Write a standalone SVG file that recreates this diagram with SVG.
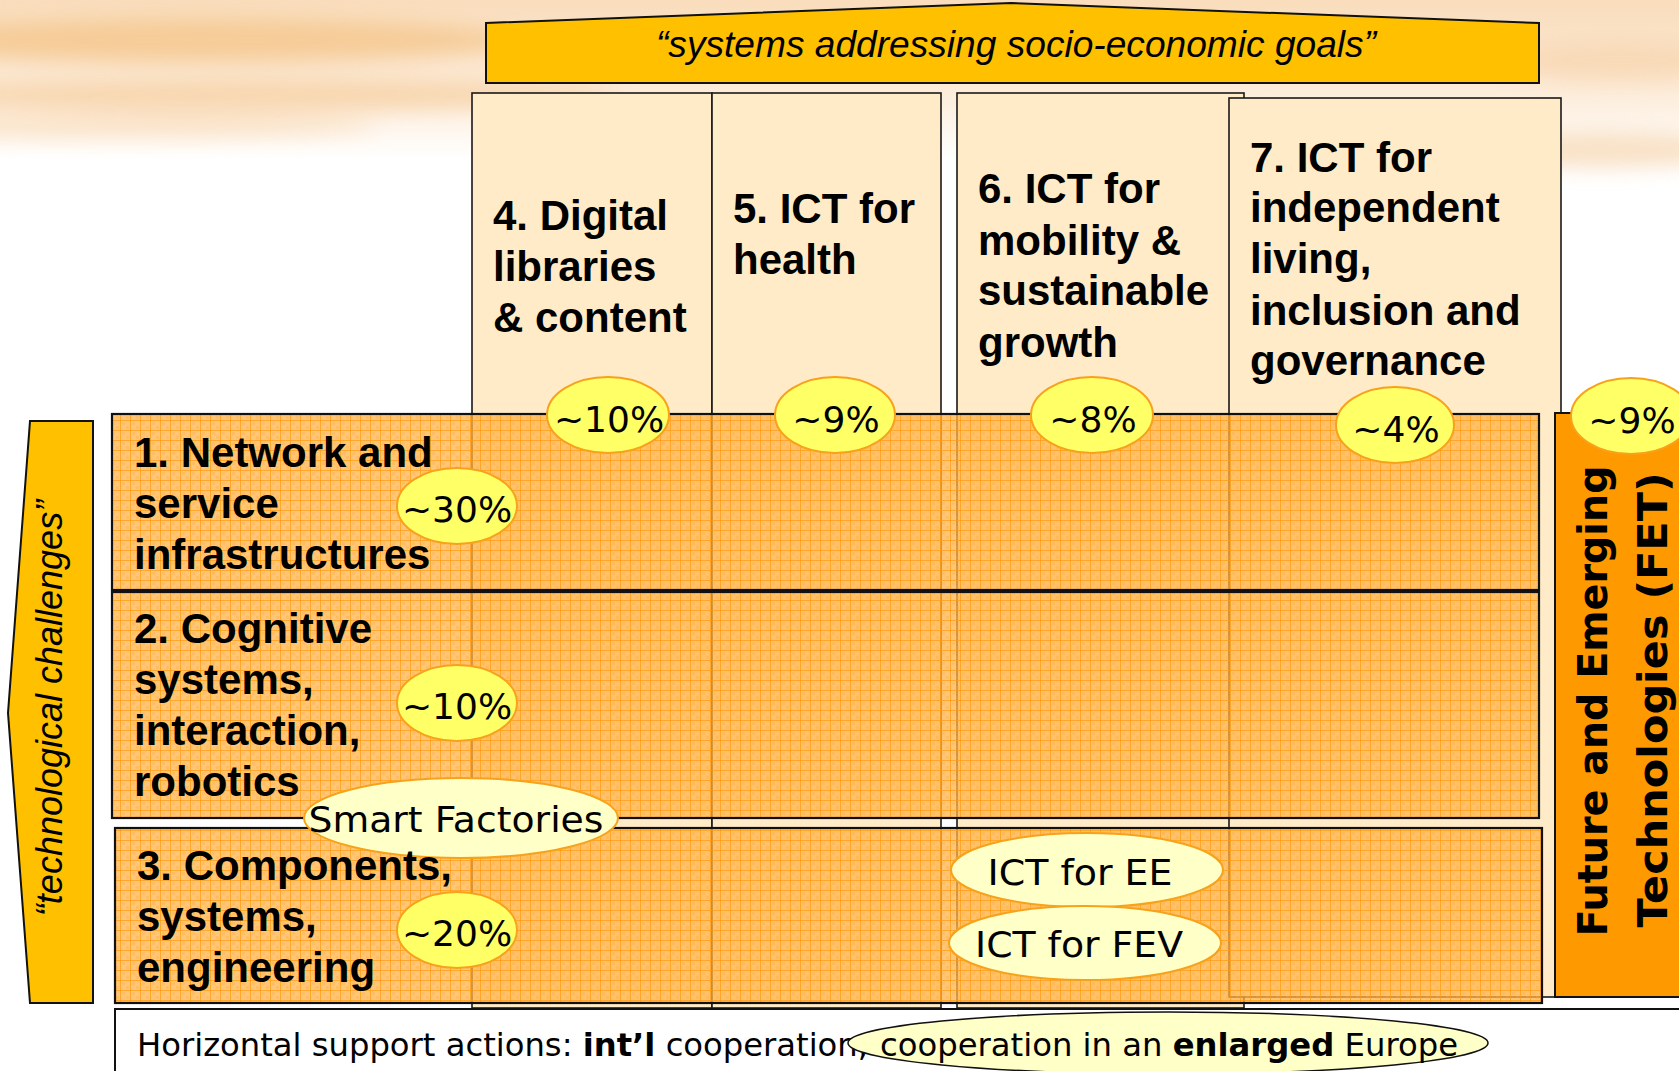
<svg xmlns="http://www.w3.org/2000/svg" width="1679" height="1071" viewBox="0 0 1679 1071">
<defs>
  <linearGradient id="bgTop" x1="0" y1="0" x2="0" y2="1">
    <stop offset="0" stop-color="#F9DDBC"/>
    <stop offset="0.55" stop-color="#FCEBD8"/>
    <stop offset="1" stop-color="#FFFFFF"/>
  </linearGradient>
  <filter id="blur" x="-20%" y="-50%" width="140%" height="200%">
    <feGaussianBlur stdDeviation="10"/>
  </filter>
  <pattern id="grid" width="10" height="10" patternUnits="userSpaceOnUse">
    <rect width="10" height="10" fill="#FFB347" fill-opacity="0.74"/>
    <rect x="2" y="2" width="3" height="3" fill="#FFA733" fill-opacity="0.25"/>
    <rect x="6" y="6" width="3" height="3" fill="#FFA733" fill-opacity="0.25"/>
    <path d="M0 0.5H10M0.5 0V10" stroke="#FF9A14" stroke-width="1" stroke-opacity="0.75"/>
  </pattern>
  <style>
    .col { fill: #FFEBC8; stroke: #1A1A1A; stroke-width: 1.6; }
    .row { fill: url(#grid); stroke: #111; stroke-width: 2.2; }
    .lbl { font-family: "Liberation Sans", Arial, sans-serif; font-weight: bold; font-size: 42px; fill: #000; }
    .pct { fill: #FFFF66; stroke: #F7A21B; stroke-width: 2; }
    .pale { fill: #FFFFC8; stroke: #F7A21B; stroke-width: 2; }
    .pt { font-family: "DejaVu Sans", Verdana, sans-serif; font-size: 36px; fill: #000; text-anchor: middle; }
  </style>
</defs>

<!-- background -->
<rect width="1679" height="1071" fill="#FFFFFF"/>
<rect x="0" y="0" width="1679" height="160" fill="url(#bgTop)"/>
<g filter="url(#blur)" opacity="0.85">
  <ellipse cx="200" cy="40" rx="320" ry="22" fill="#F5C890"/>
  <ellipse cx="260" cy="95" rx="360" ry="16" fill="#F7D3A8"/>
  <ellipse cx="120" cy="125" rx="260" ry="12" fill="#FAE0C2"/>
  <ellipse cx="1600" cy="150" rx="140" ry="18" fill="#F8DDBE"/>
  <ellipse cx="1620" cy="60" rx="120" ry="20" fill="#F8D8B4"/>
</g>

<!-- top banner -->
<g id="banner">
  <polygon points="486,23 1011,3 1539,23 1539,83 486,83" fill="#FFC000" stroke="#111" stroke-width="2"/>
  <text x="1016" y="57" text-anchor="middle" font-family="Liberation Sans, Arial, sans-serif" font-style="italic" font-size="37" textLength="720" lengthAdjust="spacingAndGlyphs">“systems addressing socio-economic goals”</text>
</g>

<!-- columns -->
<g id="col4"><rect class="col" x="472" y="93" width="240" height="915"/></g>
<g id="col5"><rect class="col" x="712" y="93" width="229" height="915"/></g>
<g id="col6"><rect class="col" x="957" y="93" width="287" height="915"/></g>
<g id="col7"><rect class="col" x="1229" y="98" width="332" height="899"/></g>

<!-- left arrow -->
<g id="techArrow">
  <polygon points="30,421 93,421 93,1003 30,1003 8,713" fill="#FFC000" stroke="#111" stroke-width="2"/>
  <text transform="translate(62,708) rotate(-90)" text-anchor="middle" font-family="Liberation Sans, Arial, sans-serif" font-style="italic" font-size="36">“technological challenges”</text>
</g>

<!-- rows -->
<g id="row1"><rect class="row" x="112" y="414" width="1427" height="176"/></g>
<g id="row2"><rect class="row" x="112" y="592" width="1427" height="226"/></g>
<g id="row3"><rect class="row" x="115" y="828" width="1427" height="175"/></g>

<!-- FET -->
<g id="fet">
  <rect x="1555" y="413" width="140" height="584" fill="#FF9900" stroke="#111" stroke-width="2"/>
  <text transform="translate(1607,701) rotate(-90)" text-anchor="middle" font-family="DejaVu Sans, Verdana, sans-serif" font-weight="bold" font-size="40" textLength="471" lengthAdjust="spacingAndGlyphs">Future and Emerging</text>
  <text transform="translate(1667,700) rotate(-90)" text-anchor="middle" font-family="DejaVu Sans, Verdana, sans-serif" font-weight="bold" font-size="40" textLength="455" lengthAdjust="spacingAndGlyphs">Technologies (FET)</text>
</g>

<!-- horizontal support -->
<g id="horizontal">
  <rect x="115" y="1009" width="1580" height="80" fill="#FFFFFF" stroke="#111" stroke-width="2"/>
  <text x="137" y="1056" font-family="DejaVu Sans, Verdana, sans-serif" font-size="32" textLength="731" lengthAdjust="spacingAndGlyphs">Horizontal support actions: <tspan font-weight="bold">int’l</tspan> cooperation,</text>
  <ellipse cx="1168" cy="1043" rx="320" ry="31" fill="#FFFFC8" stroke="#111" stroke-width="1.5"/>
  <text x="880" y="1056" font-family="DejaVu Sans, Verdana, sans-serif" font-size="32" textLength="578" lengthAdjust="spacingAndGlyphs">cooperation in an <tspan font-weight="bold">enlarged</tspan> Europe</text>
</g>

<!-- bubbles -->
<g id="bubble-col4"><ellipse class="pct" cx="608" cy="415" rx="61" ry="38"/><text class="pt" x="609" y="432">~10%</text></g>
<g id="bubble-col5"><ellipse class="pct" cx="835" cy="415" rx="60" ry="38"/><text class="pt" x="836" y="432">~9%</text></g>
<g id="bubble-col6"><ellipse class="pct" cx="1092" cy="415" rx="61" ry="38"/><text class="pt" x="1093" y="432">~8%</text></g>
<g id="bubble-col7"><ellipse class="pct" cx="1395" cy="425" rx="59" ry="38"/><text class="pt" x="1396" y="442">~4%</text></g>
<g id="bubble-fet"><ellipse class="pct" cx="1631" cy="416" rx="60" ry="38"/><text class="pt" x="1632" y="433">~9%</text></g>
<g id="bubble-row1"><ellipse class="pct" cx="457" cy="506" rx="60" ry="38"/><text class="pt" x="457" y="522">~30%</text></g>
<g id="bubble-row2"><ellipse class="pct" cx="457" cy="703" rx="60" ry="38"/><text class="pt" x="457" y="719">~10%</text></g>
<g id="bubble-row3"><ellipse class="pct" cx="457" cy="930" rx="60" ry="38"/><text class="pt" x="457" y="946">~20%</text></g>

<g id="smartFactories"><ellipse class="pale" cx="461" cy="818" rx="157" ry="40"/><text class="pt" x="456" y="832" textLength="295" lengthAdjust="spacingAndGlyphs">Smart Factories</text></g>
<g id="ictEE"><ellipse class="pale" cx="1087" cy="870" rx="136" ry="37"/><text class="pt" x="1080" y="885" textLength="185" lengthAdjust="spacingAndGlyphs">ICT for EE</text></g>
<g id="ictFEV"><ellipse class="pale" cx="1085" cy="943" rx="136" ry="37"/><text class="pt" x="1079" y="957" textLength="208" lengthAdjust="spacingAndGlyphs">ICT for FEV</text></g>

<!-- labels -->
<g id="label-row1" class="lbl">
  <text x="134" y="467">1. Network and</text>
  <text x="134" y="518">service</text>
  <text x="134" y="569">infrastructures</text>
</g>
<g id="label-row2" class="lbl">
  <text x="134" y="643">2. Cognitive</text>
  <text x="134" y="694">systems,</text>
  <text x="134" y="745">interaction,</text>
  <text x="134" y="796">robotics</text>
</g>
<g id="label-row3" class="lbl">
  <text x="137" y="880">3. Components,</text>
  <text x="137" y="931">systems,</text>
  <text x="137" y="982">engineering</text>
</g>
<g id="label-col4" class="lbl">
  <text x="493" y="230">4. Digital</text>
  <text x="493" y="281">libraries</text>
  <text x="493" y="332">&amp; content</text>
</g>
<g id="label-col5" class="lbl">
  <text x="733" y="223">5. ICT for</text>
  <text x="733" y="274">health</text>
</g>
<g id="label-col6" class="lbl">
  <text x="978" y="203">6. ICT for</text>
  <text x="978" y="255">mobility &amp;</text>
  <text x="978" y="305">sustainable</text>
  <text x="978" y="357">growth</text>
</g>
<g id="label-col7" class="lbl">
  <text x="1250" y="172">7. ICT for</text>
  <text x="1250" y="222">independent</text>
  <text x="1250" y="273">living,</text>
  <text x="1250" y="325">inclusion and</text>
  <text x="1250" y="375">governance</text>
</g>
<g id="connectors"></g>
</svg>
